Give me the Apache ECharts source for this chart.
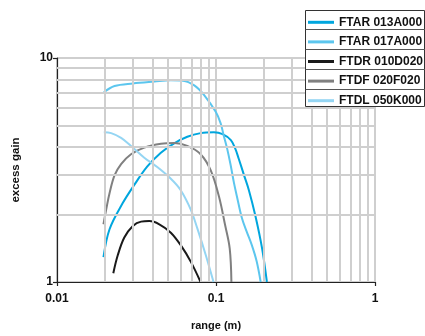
<!DOCTYPE html>
<html>
<head>
<meta charset="utf-8">
<script src="https://cdn.jsdelivr.net/npm/echarts@6/dist/echarts.min.js"></script>
<style>
html,body{margin:0;padding:0;background:#fff;}
#chart{width:425px;height:336px;}
</style>
</head>
<body>
<div id="chart"></div>
<script>
// ---- data ----
var seriesNames = ['FTAR 013A000', 'FTAR 017A000', 'FTDR 010D020', 'FTDF 020F020', 'FTDL 050K000'];
var ftar013 = [[0.0196,1.29],[0.0214,1.72],[0.0259,2.25],[0.0307,2.72],[0.037,3.28],[0.045,3.78],[0.0546,4.16],[0.066,4.45],[0.08,4.62],[0.097,4.66],[0.11,4.57],[0.124,4.3],[0.132,3.95],[0.139,3.55],[0.15,3.0],[0.161,2.57],[0.177,1.97],[0.195,1.41],[0.209,1.0]];
var ftar017 = [[0.0197,7.03],[0.023,7.5],[0.03,7.7],[0.041,7.85],[0.052,7.95],[0.062,7.92],[0.073,7.55],[0.084,6.85],[0.0996,5.75],[0.107,5.11],[0.112,4.49],[0.1177,3.92],[0.1236,3.33],[0.1297,2.77],[0.1354,2.41],[0.1455,1.93],[0.1564,1.67],[0.168,1.46],[0.18,1.24],[0.191,1.0]];
var ftdr010 = [[0.0226,1.095],[0.0241,1.316],[0.0265,1.58],[0.03,1.78],[0.0338,1.86],[0.038,1.87],[0.044,1.81],[0.052,1.66],[0.06,1.46],[0.0695,1.23],[0.08,1.0]];
var ftdf020 = [[0.0196,1.81],[0.0205,2.15],[0.0214,2.49],[0.023,2.99],[0.0253,3.36],[0.0292,3.72],[0.0354,3.98],[0.0451,4.14],[0.0546,4.17],[0.066,4.05],[0.08,3.72],[0.0927,3.15],[0.1045,2.4],[0.114,1.8],[0.122,1.41],[0.125,1.0]];
var ftdl050 = [[0.0197,4.66],[0.0219,4.62],[0.0253,4.4],[0.0292,4.05],[0.0354,3.59],[0.0429,3.25],[0.052,2.89],[0.06,2.57],[0.0695,2.1],[0.0764,1.73],[0.0862,1.32],[0.0965,1.0]];
var xTickVals = [0.01, 0.1, 1];
var xTickLabels = ['0.01', '0.1', '1'];
var yTickVals = [1, 10];
var yTickLabels = ['1', '10'];
var xMinorGrid = [0.02,0.03,0.04,0.05,0.06,0.07,0.08,0.09,0.2,0.3,0.4,0.5,0.6,0.7,0.8,0.9];
var yMinorGrid = [2,3,4,5,6,7,8,9];
var xName = 'range (m)';
var yName = 'excess gain';

// ---- styles ----
var colors = ['#00a6de', '#5cc6ee', '#1a1a1a', '#808080', '#94d5f3'];
var dataSets = [ftar013, ftar017, ftdr010, ftdf020, ftdl050];
var FONT = '"Liberation Sans", Arial, Helvetica, sans-serif';
var gridColor = '#cfcfcf';

function nearestLabel(vals, labels, v) {
  var best = 0, bd = Infinity;
  for (var i = 0; i < vals.length; i++) {
    var d = Math.abs(Math.log10(v) - Math.log10(vals[i]));
    if (d < bd) { bd = d; best = i; }
  }
  return labels[best];
}

var series = [{
  type: 'line',
  data: [],
  z: 1,
  silent: true,
  markLine: {
    silent: true,
    symbol: 'none',
    animation: false,
    label: { show: false },
    lineStyle: { color: gridColor, width: 2, type: 'solid' },
    emphasis: { disabled: true },
    data: xMinorGrid.map(function (v) { return { xAxis: v }; })
      .concat(yMinorGrid.map(function (v) { return { yAxis: v }; }))
  }
}];
for (var i = 0; i < dataSets.length; i++) {
  series.push({
    name: seriesNames[i],
    type: 'line',
    data: dataSets[i],
    smooth: 0.35,
    showSymbol: false,
    symbol: 'none',
    z: 3,
    lineStyle: { color: colors[i], width: 2 },
    itemStyle: { color: colors[i] }
  });
}

var chart = echarts.init(document.getElementById('chart'), null, { renderer: 'canvas' });
chart.setOption({
  animation: false,
  backgroundColor: '#fff',
  grid: { left: 57, right: 50, top: 58, bottom: 49, containLabel: false },
  xAxis: {
    type: 'log', logBase: 10, min: 0.01, max: 1,
    name: xName, nameLocation: 'middle', nameGap: 38,
    nameTextStyle: { fontFamily: FONT, fontWeight: 'bold', fontSize: 11, color: '#111' },
    axisLine: { show: true, onZero: false, lineStyle: { color: '#222', width: 1.2 } },
    axisTick: { show: true, length: 4, lineStyle: { color: '#222', width: 1.2 } },
    axisLabel: { fontFamily: FONT, fontWeight: 'bold', fontSize: 12, color: '#111', margin: 11,
      formatter: function (v) { return nearestLabel(xTickVals, xTickLabels, v); } },
    splitLine: { show: true, lineStyle: { color: gridColor, width: 2 } }
  },
  yAxis: {
    type: 'log', logBase: 10, min: 1, max: 10,
    name: yName, nameLocation: 'middle', nameGap: 35, nameRotate: 90,
    nameTextStyle: { fontFamily: FONT, fontWeight: 'bold', fontSize: 11.5, color: '#111' },
    axisLine: { show: true, onZero: false, lineStyle: { color: '#222', width: 1.2 } },
    axisTick: { show: true, length: 4, lineStyle: { color: '#222', width: 1.2 } },
    axisLabel: { fontFamily: FONT, fontWeight: 'bold', fontSize: 12, color: '#111', margin: 4,
      formatter: function (v) { return nearestLabel(yTickVals, yTickLabels, v); } },
    splitLine: { show: true, lineStyle: { color: gridColor, width: 2 } }
  },
  legend: {
    data: seriesNames,
    orient: 'vertical',
    left: 308, top: 15.3,
    padding: 0,
    z: 20,
    icon: 'rect',
    itemWidth: 26, itemHeight: 3,
    itemGap: 5.6,
    selectedMode: false,
    textStyle: { fontFamily: FONT, fontWeight: 'bold', fontSize: 12, color: '#111', lineHeight: 14 }
  },
  graphic: [
    { type: 'rect', silent: true, z: 10, shape: { x: 305.5, y: 10.5, width: 119, height: 96 },
      style: { fill: '#fff', stroke: '#333', lineWidth: 1 } },
    { type: 'line', silent: true, z: 30, shape: { x1: 305.5, y1: 29.5, x2: 425, y2: 29.5 }, style: { stroke: '#555', lineWidth: 1 } },
    { type: 'line', silent: true, z: 30, shape: { x1: 305.5, y1: 49.5, x2: 425, y2: 49.5 }, style: { stroke: '#555', lineWidth: 1 } },
    { type: 'line', silent: true, z: 30, shape: { x1: 305.5, y1: 69.5, x2: 425, y2: 69.5 }, style: { stroke: '#555', lineWidth: 1 } },
    { type: 'line', silent: true, z: 30, shape: { x1: 305.5, y1: 89.5, x2: 425, y2: 89.5 }, style: { stroke: '#555', lineWidth: 1 } }
  ],
  series: series
});
</script>
</body>
</html>
